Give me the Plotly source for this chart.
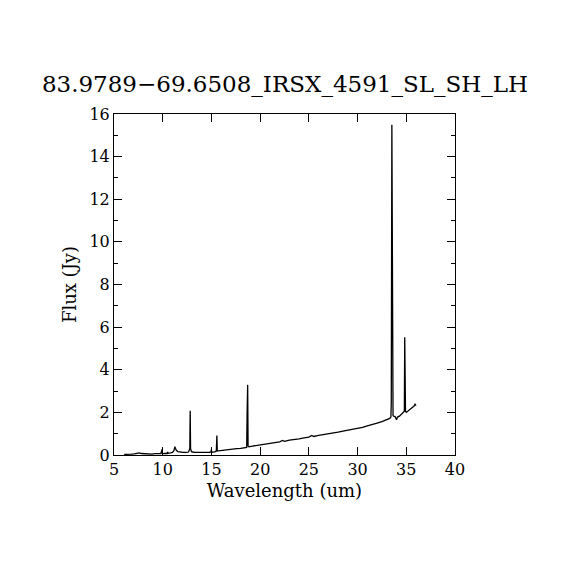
import plotly.graph_objects as go

TITLE = "83.9789\u221269.6508_IRSX_4591_SL_SH_LH"
X_LABEL = "Wavelength (um)"
Y_LABEL = "Flux (Jy)"

wavelength = [
    6.05, 6.4, 6.8, 7.1, 7.4, 7.6, 7.8, 8.0, 8.3, 8.6, 8.9, 9.2, 9.5, 9.8, 9.95, 9.97, 10.0, 10.2,
    10.45, 10.5, 10.55, 10.8, 11.0, 11.15, 11.25, 11.3, 11.4, 11.55, 11.8, 12.1, 12.4, 12.65,
    12.78, 12.82, 12.86, 12.95, 13.2, 13.6, 14.0, 14.4, 14.8, 14.95, 14.99, 15.05, 15.3, 15.5,
    15.56, 15.6, 15.7, 16.0, 16.4, 16.8, 17.2, 17.6, 18.0, 18.4, 18.62, 18.66, 18.72, 18.76,
    18.85, 19.2, 19.6, 20.0, 20.5, 21.0, 21.5, 22.0, 22.3, 22.5, 23.0, 23.5, 24.0, 24.5, 25.0,
    25.3, 25.5, 26.0, 26.5, 27.0, 27.5, 28.0, 28.5, 29.0, 29.5, 30.0, 30.5, 31.0, 31.5, 32.0,
    32.5, 33.0, 33.3, 33.42, 33.46, 33.52, 33.56, 33.6, 33.64, 33.7, 33.85, 34.0, 34.1,
    34.3, 34.5, 34.7, 34.8, 34.84, 34.88, 34.92, 35.0, 35.2, 35.4, 35.6, 35.8, 35.9, 36.0,
]
flux = [
    0.03, 0.02, 0.04, 0.05, 0.08, 0.1, 0.07, 0.06, 0.08, 0.05, 0.04, 0.06, 0.05, 0.06, 0.27, 0.05, 0.06, 0.08,
    0.07, 0.14, 0.08, 0.1, 0.12, 0.2, 0.39, 0.32, 0.22, 0.16, 0.13, 0.12, 0.12, 0.14,
    0.3, 2.07, 0.3, 0.16, 0.13, 0.12, 0.12, 0.12, 0.13, 0.14, 0.25, 0.13, 0.15, 0.18,
    0.91, 0.2, 0.19, 0.21, 0.24, 0.26, 0.27, 0.3, 0.31, 0.33, 0.36, 1.9, 3.29, 0.42,
    0.38, 0.42, 0.45, 0.47, 0.51, 0.55, 0.58, 0.62, 0.68, 0.64, 0.7, 0.72, 0.76, 0.8, 0.84,
    0.92, 0.87, 0.92, 0.95, 0.98, 1.03, 1.07, 1.12, 1.16, 1.2, 1.26, 1.3, 1.37, 1.42, 1.5,
    1.57, 1.65, 1.72, 1.78, 2.42, 15.5, 3.55, 1.95, 1.85, 1.82, 1.8, 1.65, 1.78,
    1.82, 1.9, 1.98, 2.05, 5.52, 4.22, 2.05, 2.0, 2.08, 2.15, 2.2, 2.3, 2.38, 2.32,
]

XTICKS = [5, 10, 15, 20, 25, 30, 35, 40]
YTICKS = [0, 2, 4, 6, 8, 10, 12, 14, 16]

FONT = "DejaVu Serif"

fig = go.Figure()
fig.add_trace(go.Scatter(
    x=wavelength, y=flux, mode="lines",
    line=dict(color="black", width=1.3),
    showlegend=False, hoverinfo="skip",
))

axis_common = dict(
    showline=True, linecolor="black", linewidth=1, mirror="allticks",
    ticks="inside", ticklen=8, tickwidth=1, tickcolor="black",
    showgrid=False, zeroline=False,
    tickfont=dict(family=FONT, size=16, color="black"),
)

fig.update_layout(
    width=570, height=570, autosize=False,
    paper_bgcolor="white", plot_bgcolor="white",
    margin=dict(l=106, r=123, t=106, b=123),
    title=dict(text=TITLE, x=(285 - 8) / 570, xanchor="center", y=1 - 76 / 570, yanchor="middle",
               font=dict(family=FONT, size=23, color="black")),
    xaxis=dict(range=[5, 40], tickvals=XTICKS, ticktext=[str(v) for v in XTICKS],
               title=dict(text=X_LABEL, font=dict(family=FONT, size=18, color="black"), standoff=6),
               **axis_common),
    yaxis=dict(range=[0, 16], tickvals=YTICKS, ticktext=[str(v) for v in YTICKS],
               title=dict(text=Y_LABEL, font=dict(family=FONT, size=18, color="black"), standoff=8),
               minor=dict(dtick=1, ticks="inside", ticklen=4, tickcolor="black", showgrid=False),
               **axis_common),
)

fig.write_html("out.html")
